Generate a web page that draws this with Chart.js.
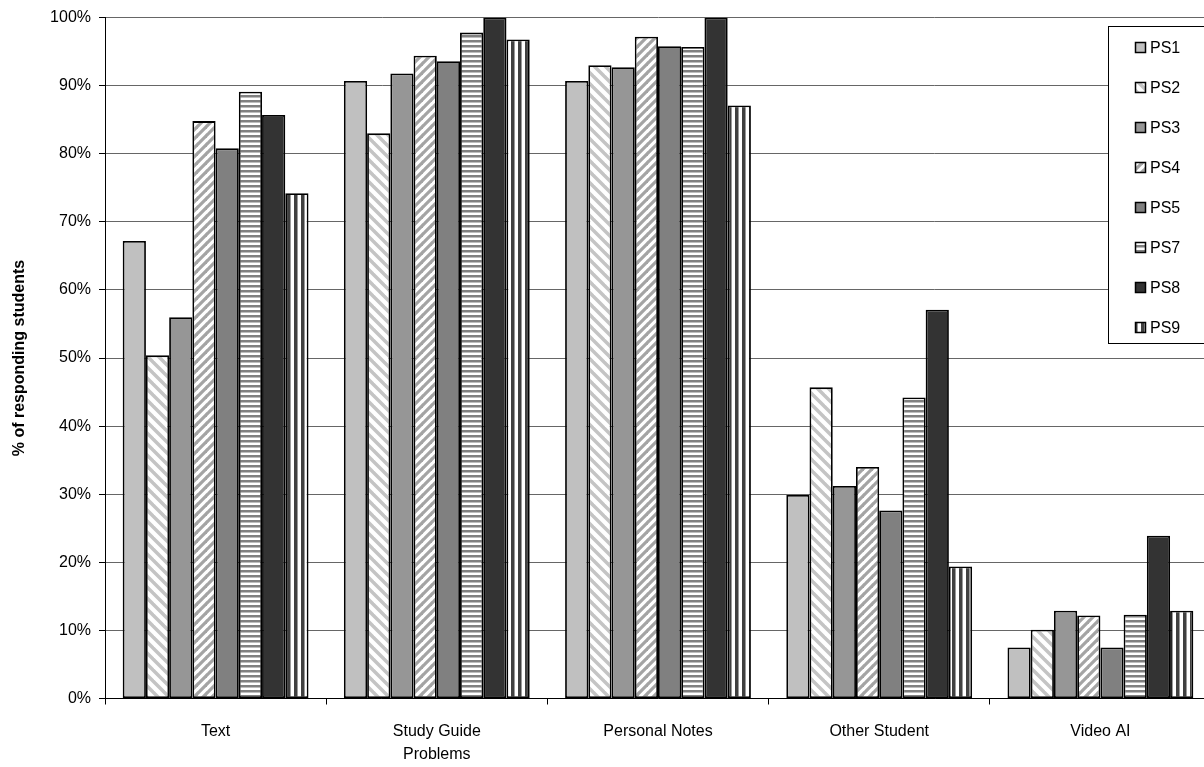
<!DOCTYPE html>
<html>
<head>
<meta charset="utf-8">
<script src="https://cdn.jsdelivr.net/npm/chart.js@4/dist/chart.umd.min.js"></script>
<style>
  html, body { margin: 0; padding: 0; background: #fff; overflow: hidden; }
  #wrap { width: 1214px; height: 767px; }
</style>
</head>
<body>
<div id="wrap"><canvas id="c" width="1214" height="767"></canvas></div>
<script>
// Study resources used by students, by problem set
const categories = ['Text', ['Study Guide', 'Problems'], 'Personal Notes', 'Other Student', 'Video AI'];
const seriesNames = ['PS1', 'PS2', 'PS3', 'PS4', 'PS5', 'PS7', 'PS8', 'PS9'];

const ps1 = [67.2, 90.7, 90.7, 29.9, 7.5];
const ps2 = [50.4, 83.0, 93.0, 45.7, 10.1];
const ps3 = [56.0, 91.8, 92.7, 31.2, 12.9];
const ps4 = [84.8, 94.4, 97.2, 34.0, 12.2];
const ps5 = [80.8, 93.6, 95.8, 27.6, 7.5];
const ps7 = [89.1, 97.8, 95.7, 44.2, 12.3];
const ps8 = [85.7, 100.0, 100.0, 57.1, 23.9];
const ps9 = [74.2, 96.8, 87.1, 19.4, 12.9];

const yTicks = [0, 10, 20, 30, 40, 50, 60, 70, 80, 90, 100];

const FONT = '"Liberation Sans", Arial, sans-serif';

// ---- fill patterns ----
function tile(w, h, draw) {
  const c = document.createElement('canvas');
  c.width = w; c.height = h;
  const g = c.getContext('2d');
  g.fillStyle = '#ffffff';
  g.fillRect(0, 0, w, h);
  draw(g, w, h);
  return document.getElementById('c').getContext('2d').createPattern(c, 'repeat');
}
function diagonal(size, color, width, down) {
  return tile(size, size, (g, w, h) => {
    g.strokeStyle = color;
    g.lineWidth = width;
    g.lineCap = 'square';
    for (let k = -1; k <= 1; k++) {
      g.beginPath();
      if (down) { g.moveTo(k * w, 0); g.lineTo(k * w + w, h); }
      else { g.moveTo(k * w, h); g.lineTo(k * w + w, 0); }
      g.stroke();
    }
  });
}
const horizontal = tile(1, 5, (g) => {
  g.fillStyle = '#808080'; g.fillRect(0, 0, 1, 2);
  g.fillStyle = '#bdbdbd'; g.fillRect(0, 2, 1, 1);
});
const vertical = tile(7, 1, (g) => {
  g.fillStyle = '#404040'; g.fillRect(0, 0, 3, 1);
  g.fillStyle = '#9a9a9a'; g.fillRect(3, 0, 1, 1);
});

const fills = [
  '#c0c0c0',
  diagonal(11, '#c4c4c4', 3.5, true),
  '#969696',
  diagonal(9, '#a4a4a4', 3.2, false),
  '#808080',
  horizontal,
  '#333333',
  vertical
];

const seriesValues = [ps1, ps2, ps3, ps4, ps5, ps7, ps8, ps9];

const datasets = seriesNames.map((name, i) => ({
  label: name,
  data: seriesValues[i],
  backgroundColor: fills[i],
  borderColor: '#000000',
  borderWidth: 1.8,
  borderSkipped: false,
  categoryPercentage: 0.84,
  barPercentage: 1.0
}));

// Boxed legend drawn over the upper right of the plot
const boxLegend = {
  id: 'boxLegend',
  afterDraw(chart) {
    const ctx = chart.ctx;
    ctx.save();
    const bx = 1108.5, by = 26.5, bw = 120, bh = 317;
    ctx.fillStyle = '#ffffff';
    ctx.fillRect(bx, by, bw, bh);
    ctx.strokeStyle = '#000000';
    ctx.lineWidth = 1;
    ctx.strokeRect(bx, by, bw, bh);
    ctx.font = '16px ' + FONT;
    ctx.textBaseline = 'middle';
    ctx.textAlign = 'left';
    chart.data.datasets.forEach((ds, i) => {
      const cy = 47.5 + i * 40;
      ctx.fillStyle = ds.backgroundColor;
      ctx.fillRect(1135.5, cy - 5, 10, 10);
      ctx.strokeStyle = '#000000';
      ctx.lineWidth = 1.5;
      ctx.strokeRect(1135.5, cy - 5, 10, 10);
      ctx.fillStyle = '#000000';
      ctx.fillText(ds.label, 1150, cy + 1);
    });
    ctx.restore();
  }
};

new Chart(document.getElementById('c'), {
  type: 'bar',
  data: { labels: categories, datasets },
  plugins: [boxLegend],
  options: {
    responsive: false,
    devicePixelRatio: 1,
    animation: false,
    layout: { padding: { top: 16, left: 0, right: 3, bottom: 0 } },
    plugins: {
      legend: { display: false },
      tooltip: { enabled: false }
    },
    scales: {
      x: {
        offset: true,
        grid: {
          display: true,
          offset: true,
          drawOnChartArea: false,
          drawTicks: true,
          tickLength: 6,
          color: '#000000'
        },
        border: { display: true, color: '#000000', width: 1 },
        ticks: {
          color: '#000000',
          font: { family: FONT, size: 16, lineHeight: 1.44 },
          padding: 16,
          maxRotation: 0,
          autoSkip: false
        },
        afterFit(scale) { scale.height = 68.5; }
      },
      y: {
        min: 0,
        max: 100,
        afterBuildTicks(scale) { scale.ticks = yTicks.map(v => ({ value: v })); },
        grid: {
          color: '#666666',
          lineWidth: 1,
          drawTicks: true,
          tickLength: 6,
          tickColor: '#000000'
        },
        border: { display: true, color: '#000000', width: 1 },
        ticks: {
          color: '#000000',
          font: { family: FONT, size: 16 },
          padding: 8,
          callback: (v) => v + '%'
        },
        title: {
          display: true,
          text: '% of responding students',
          color: '#000000',
          font: { family: FONT, size: 16, weight: 'bold' },
          padding: { top: 10, bottom: 0 }
        },
        afterFit(scale) { scale.width = 105; }
      }
    }
  }
});
</script>
</body>
</html>
